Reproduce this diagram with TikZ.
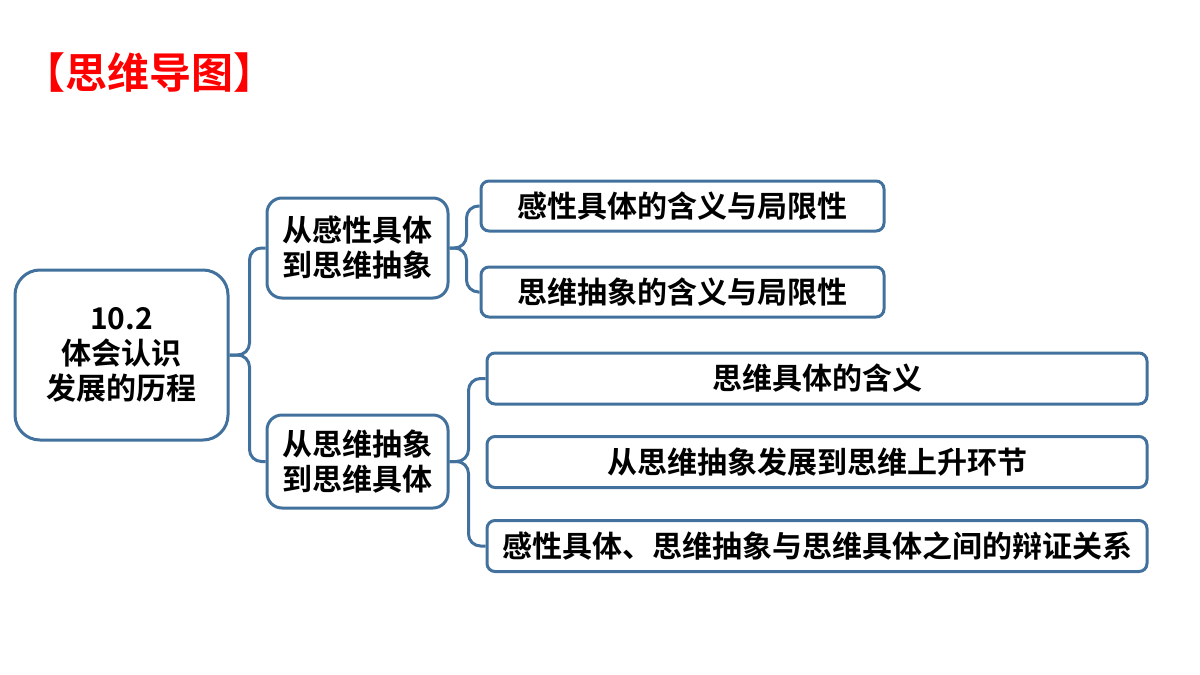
\documentclass[tikz,border=0pt]{standalone}
\usepackage{fontspec}
\setmainfont{Noto Sans CJK SC}[BoldFont={Noto Sans CJK SC Bold}]
\definecolor{boxblue}{RGB}{65,113,156}
\definecolor{titlered}{RGB}{255,0,0}
\begin{document}
\begin{tikzpicture}[x=0.5pt,y=-0.5pt,
  box/.style={draw=boxblue,line width=1.5pt,align=center,inner sep=0pt,
    font=\fontsize{15}{17.5}\selectfont\bfseries},
  conn/.style={draw=boxblue,line width=1.5pt,rounded corners=6pt}]
\useasboundingbox (0,0) rectangle (1200,675);
\node[font=\fontsize{21}{24}\selectfont\bfseries,text=titlered] (title) at (150,73) {【思维导图】};
\node[box,minimum width=106.5pt,minimum height=85pt,rounded corners=12.5pt] (root) at (121.5,355) {10.2\\体会认识\\发展的历程};
\node[box,minimum width=90.5pt,minimum height=50pt,rounded corners=7.5pt] (a) at (357.5,248) {从感性具体\\到思维抽象};
\node[box,minimum width=90.5pt,minimum height=46.5pt,rounded corners=7.5pt] (b) at (357.5,461.5) {从思维抽象\\到思维具体};
\node[box,minimum width=201.5pt,minimum height=25pt,rounded corners=4pt] (a1) at (682.5,206) {感性具体的含义与局限性};
\node[box,minimum width=201.5pt,minimum height=25pt,rounded corners=4pt] (a2) at (682.5,292) {思维抽象的含义与局限性};
\node[box,minimum width=330pt,minimum height=25.5pt,rounded corners=4pt] (b1) at (817,378.5) {思维具体的含义};
\node[box,minimum width=330pt,minimum height=25.5pt,rounded corners=4pt] (b2) at (817,462) {从思维抽象发展到思维上升环节};
\node[box,minimum width=330pt,minimum height=25.5pt,rounded corners=4pt] (b3) at (817,546) {感性具体、思维抽象与思维具体之间的辩证关系};
% connectors
\draw[conn] (root.east) -- ++(20,0) |- (a.west);
\draw[conn] (root.east) -- ++(20,0) |- (b.west);
\draw[conn] (a.east) -- ++(17,0) |- (a1.west);
\draw[conn] (a.east) -- ++(17,0) |- (a2.west);
\draw[conn] (b.east) -- ++(19,0) |- (b1.west);
\draw[conn] (b.east) -- ++(19,0) |- (b3.west);
\end{tikzpicture}
\end{document}
